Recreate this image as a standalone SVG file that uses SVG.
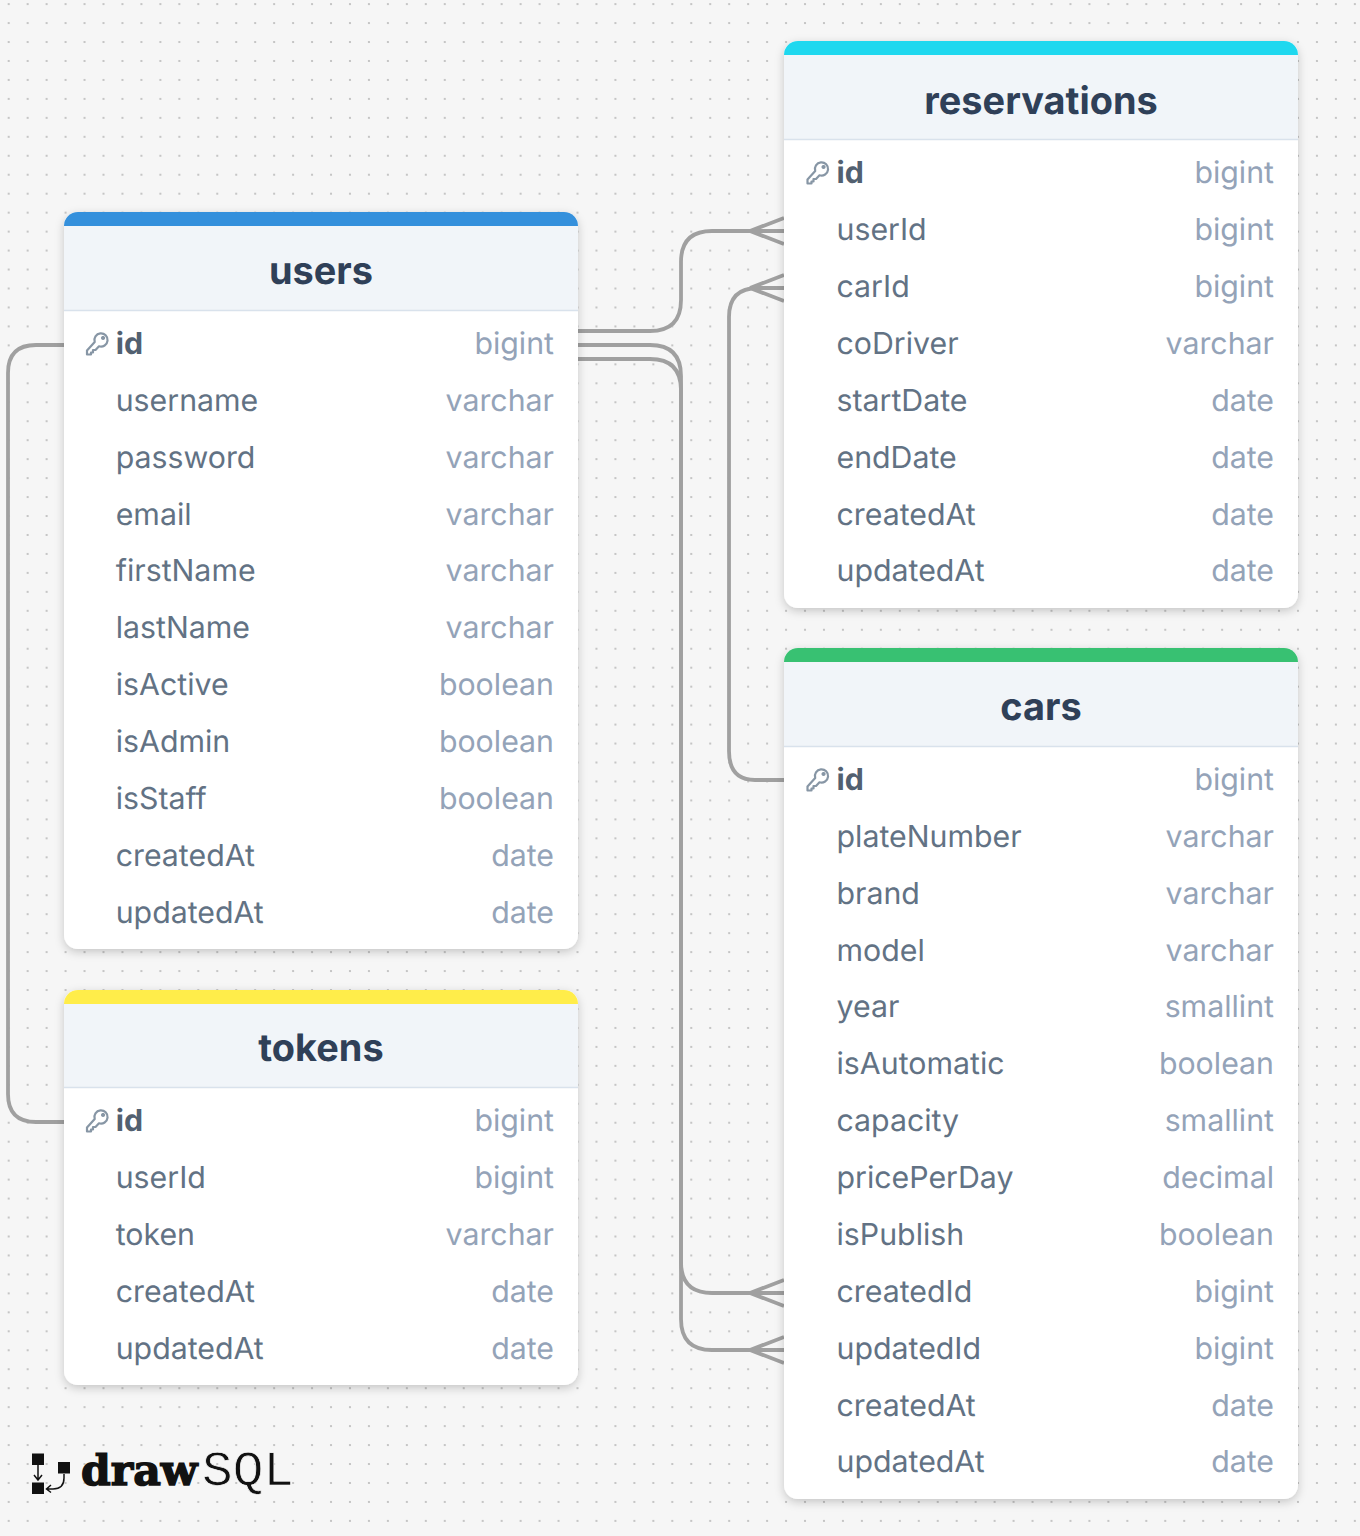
<svg xmlns="http://www.w3.org/2000/svg" width="1360" height="1536" viewBox="0 0 1360 1536">
<style>
text{font-family:Inter,"Liberation Sans",sans-serif;text-rendering:geometricPrecision}
.t{font-size:37.9px;font-weight:700;fill:#2f4058;text-anchor:middle}
.n{font-size:30.3px;fill:#627284}
.k{font-size:30.3px;font-weight:700;fill:#526070}
.y{font-size:30.3px;fill:#94a3b8;text-anchor:end}
.c{fill:#fff}
.h{fill:#f1f5f9}
.l{stroke:#d9e2ec;stroke-width:1.5;fill:none}
.w{fill:none;stroke:#a0a0a0;stroke-width:3.8}
.key{fill:none;stroke:#8796a5;stroke-width:2.2;stroke-linejoin:round;stroke-linecap:round}
</style>
<defs>
<pattern id="dots" x="8.7" y="4.1" width="18.96" height="18.96" patternUnits="userSpaceOnUse"><circle cx="0" cy="0" r="1.1" fill="#b9b9b9"/><circle cx="18.96" cy="0" r="1.1" fill="#b9b9b9"/><circle cx="0" cy="18.96" r="1.1" fill="#b9b9b9"/><circle cx="18.96" cy="18.96" r="1.1" fill="#b9b9b9"/></pattern>
<filter id="sh" x="-10%" y="-10%" width="120%" height="120%"><feDropShadow dx="0" dy="3" stdDeviation="5" flood-color="#000" flood-opacity="0.2"/></filter>
<path id="keyi" class="key" d="M-2.800 -3A6.600 6.600 0 1 1 1.500 1.300L-2 5H-4.500V7.500H-6.500V9.500H-10.500V5.500z M5.500 -8a1 1 0 1 0 .1 0"/>
</defs>
<rect width="1360" height="1536" fill="#f6f6f6"/>
<rect width="1360" height="1536" fill="url(#dots)"/>
<g id="connectors">
<path class="w" d="M578 331H650Q681 331 681 300V262Q681 231 712 231H784M750 231L784 218M750 231L784 244"/>
<path class="w" d="M784 780H755Q729 780 729 751V317Q729 288 758 288H784M750 288L784 275M750 288L784 301"/>
<path class="w" d="M578 345H650Q681 345 681 376V1262Q681 1293 712 1293H784M750 1293L784 1280M750 1293L784 1306"/>
<path class="w" d="M578 359H650Q681 359 681 390V1319Q681 1350 712 1350H784M750 1350L784 1337M750 1350L784 1363"/>
<path class="w" d="M64 345H36Q8 345 8 373V1094Q8 1122 36 1122H64"/>
</g>
<g id="users">
<rect class="c" x="64" y="212" width="514" height="737" rx="14" filter="url(#sh)"/>
<path class="h" d="M64 226H578V311H64z"/>
<path fill="#3490dc" d="M64 226V226a14 14 0 0 1 14-14H564a14 14 0 0 1 14 14z"/>
<path class="l" d="M64 310.500H578"/>
<text class="t" x="321" y="284">users</text>
<use href="#keyi" x="97.500" y="345"/>
<text class="k" x="115.700" y="354">id</text><text class="y" x="554" y="354">bigint</text>
<text class="n" x="115.700" y="411">username</text><text class="y" x="554" y="411">varchar</text>
<text class="n" x="115.700" y="468">password</text><text class="y" x="554" y="468">varchar</text>
<text class="n" x="115.700" y="525">email</text><text class="y" x="554" y="525">varchar</text>
<text class="n" x="115.700" y="581">firstName</text><text class="y" x="554" y="581">varchar</text>
<text class="n" x="115.700" y="638">lastName</text><text class="y" x="554" y="638">varchar</text>
<text class="n" x="115.700" y="695">isActive</text><text class="y" x="554" y="695">boolean</text>
<text class="n" x="115.700" y="752">isAdmin</text><text class="y" x="554" y="752">boolean</text>
<text class="n" x="115.700" y="809">isStaff</text><text class="y" x="554" y="809">boolean</text>
<text class="n" x="115.700" y="866">createdAt</text><text class="y" x="554" y="866">date</text>
<text class="n" x="115.700" y="923">updatedAt</text><text class="y" x="554" y="923">date</text>
</g>
<g id="tokens">
<rect class="c" x="64" y="990" width="514" height="395" rx="14" filter="url(#sh)"/>
<path class="h" d="M64 1004H578V1088H64z"/>
<path fill="#ffed4a" d="M64 1004a14 14 0 0 1 14-14H564a14 14 0 0 1 14 14z"/>
<path class="l" d="M64 1087.500H578"/>
<text class="t" x="321" y="1061">tokens</text>
<use href="#keyi" x="97.500" y="1122"/>
<text class="k" x="115.700" y="1131">id</text><text class="y" x="554" y="1131">bigint</text>
<text class="n" x="115.700" y="1188">userId</text><text class="y" x="554" y="1188">bigint</text>
<text class="n" x="115.700" y="1245">token</text><text class="y" x="554" y="1245">varchar</text>
<text class="n" x="115.700" y="1302">createdAt</text><text class="y" x="554" y="1302">date</text>
<text class="n" x="115.700" y="1359">updatedAt</text><text class="y" x="554" y="1359">date</text>
</g>
<g id="reservations">
<rect class="c" x="784" y="41" width="514" height="567" rx="14" filter="url(#sh)"/>
<path class="h" d="M784 55H1298V140H784z"/>
<path fill="#1fd8ef" d="M784 55a14 14 0 0 1 14-14H1284a14 14 0 0 1 14 14z"/>
<path class="l" d="M784 139.500H1298"/>
<text class="t" x="1041" y="114">reservations</text>
<use href="#keyi" x="818" y="174"/>
<text class="k" x="836.500" y="183">id</text><text class="y" x="1274" y="183">bigint</text>
<text class="n" x="836.500" y="240">userId</text><text class="y" x="1274" y="240">bigint</text>
<text class="n" x="836.500" y="297">carId</text><text class="y" x="1274" y="297">bigint</text>
<text class="n" x="836.500" y="354">coDriver</text><text class="y" x="1274" y="354">varchar</text>
<text class="n" x="836.500" y="411">startDate</text><text class="y" x="1274" y="411">date</text>
<text class="n" x="836.500" y="468">endDate</text><text class="y" x="1274" y="468">date</text>
<text class="n" x="836.500" y="525">createdAt</text><text class="y" x="1274" y="525">date</text>
<text class="n" x="836.500" y="581">updatedAt</text><text class="y" x="1274" y="581">date</text>
</g>
<g id="cars">
<rect class="c" x="784" y="648" width="514" height="851" rx="14" filter="url(#sh)"/>
<path class="h" d="M784 662H1298V747H784z"/>
<path fill="#38c172" d="M784 662a14 14 0 0 1 14-14H1284a14 14 0 0 1 14 14z"/>
<path class="l" d="M784 746.500H1298"/>
<text class="t" x="1041" y="720">cars</text>
<use href="#keyi" x="818" y="781"/>
<text class="k" x="836.500" y="790">id</text><text class="y" x="1274" y="790">bigint</text>
<text class="n" x="836.500" y="847">plateNumber</text><text class="y" x="1274" y="847">varchar</text>
<text class="n" x="836.500" y="904">brand</text><text class="y" x="1274" y="904">varchar</text>
<text class="n" x="836.500" y="961">model</text><text class="y" x="1274" y="961">varchar</text>
<text class="n" x="836.500" y="1017">year</text><text class="y" x="1274" y="1017">smallint</text>
<text class="n" x="836.500" y="1074">isAutomatic</text><text class="y" x="1274" y="1074">boolean</text>
<text class="n" x="836.500" y="1131">capacity</text><text class="y" x="1274" y="1131">smallint</text>
<text class="n" x="836.500" y="1188">pricePerDay</text><text class="y" x="1274" y="1188">decimal</text>
<text class="n" x="836.500" y="1245">isPublish</text><text class="y" x="1274" y="1245">boolean</text>
<text class="n" x="836.500" y="1302">createdId</text><text class="y" x="1274" y="1302">bigint</text>
<text class="n" x="836.500" y="1359">updatedId</text><text class="y" x="1274" y="1359">bigint</text>
<text class="n" x="836.500" y="1416">createdAt</text><text class="y" x="1274" y="1416">date</text>
<text class="n" x="836.500" y="1472">updatedAt</text><text class="y" x="1274" y="1472">date</text>
</g>
<g id="logo">
<rect x="32" y="1453.500" width="12" height="11.500" fill="#111"/>
<rect x="58" y="1462" width="12" height="11.500" fill="#111"/>
<rect x="32" y="1482.500" width="12" height="11.500" fill="#111"/>
<path d="M38 1465V1479M34 1475L38 1480L42 1475M64 1474V1478Q64 1489 53 1489H47M51 1485L46.500 1489L51 1492.500" fill="none" stroke="#111" stroke-width="1.500"/>
<text x="81" y="1485" style="font-family:'DejaVu Serif',serif;font-weight:700;stroke:#111;stroke-width:1.400" font-size="42" fill="#111" textLength="116.500" lengthAdjust="spacingAndGlyphs">draw</text>
<text x="202" y="1485" style="font-family:'Liberation Mono',monospace;stroke:#f6f6f6;stroke-width:.7" font-size="49" fill="#111" textLength="92" lengthAdjust="spacingAndGlyphs">SQL</text>
</g>
</svg>
